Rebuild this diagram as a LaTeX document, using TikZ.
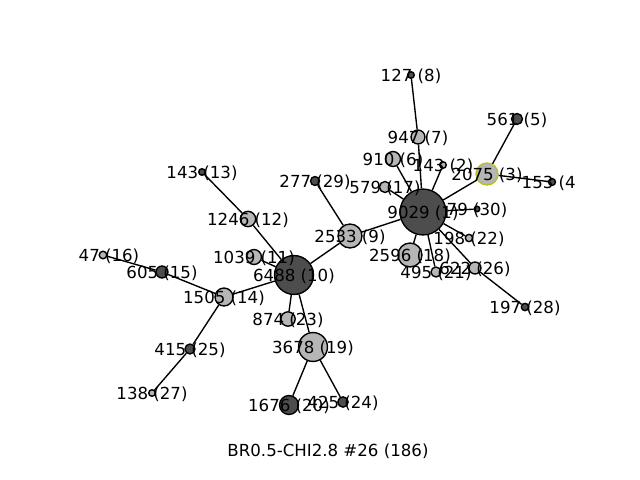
\documentclass[tikz,border=0pt]{standalone}
\usepackage{fontspec}
\setmainfont{DejaVu Sans}
\definecolor{darknode}{RGB}{77,77,77}
\definecolor{lightnode}{RGB}{182,182,182}
\definecolor{olivering}{RGB}{188,189,34}
\begin{document}
\begin{tikzpicture}[x=0.01in,y=-0.01in,line width=1pt,
  dot/.style={circle, draw=black, inner sep=0pt, minimum size=#1*1.44pt},
  dk/.style={dot=#1, fill=darknode},
  lt/.style={dot=#1, fill=lightnode},
  lbl/.style={inner sep=0pt, yshift=-0.6pt, font=\fontsize{12}{14}\selectfont}]
\useasboundingbox (0,0) rectangle (640,480);

\node[dk=23] (v1) at (423,212) {};
\node[lt=3.3] (v2) at (443,165) {};
\node[lt=11, draw=olivering] (v3) at (487,174) {};
\node[dk=3.5] (v4) at (552,182) {};
\node[dk=5.5] (v5) at (517,119) {};
\node[lt=7.5] (v6) at (393,159) {};
\node[lt=7] (v7) at (418,137) {};
\node[dk=3.3] (v8) at (411,75) {};
\node[lt=12] (v9) at (350,236) {};
\node[dk=19.5] (v10) at (294,275) {};
\node[lt=7.5] (v11) at (254,257) {};
\node[lt=7.7] (v12) at (248,219) {};
\node[dk=3.3] (v13) at (202,172) {};
\node[lt=9] (v14) at (224,297) {};
\node[dk=6] (v15) at (162,272) {};
\node[lt=3.8] (v16) at (103,255) {};
\node[lt=5.5] (v17) at (385,187) {};
\node[lt=12] (v18) at (410,255) {};
\node[lt=14.5] (v19) at (313,347) {};
\node[dk=9.5] (v20) at (289,405) {};
\node[lt=5] (v21) at (436,272) {};
\node[lt=3.7] (v22) at (469,238) {};
\node[lt=7.2] (v23) at (288,319) {};
\node[dk=5.2] (v24) at (343,402) {};
\node[dk=5] (v25) at (190,349) {};
\node[lt=6] (v26) at (475,268) {};
\node[lt=3.3] (v27) at (152,393) {};
\node[dk=3.7] (v28) at (525,307) {};
\node[dk=4.5] (v29) at (315,181) {};
\node[dk=2.8] (v30) at (477,209) {};

\draw (v1) -- (v2);
\draw (v1) -- (v3);
\draw (v1) -- (v6);
\draw (v1) -- (v7);
\draw (v1) -- (v17);
\draw (v1) -- (v9);
\draw (v1) -- (v18);
\draw (v1) -- (v21);
\draw (v1) -- (v22);
\draw (v1) -- (v26);
\draw (v1) -- (v30);
\draw (v3) -- (v4);
\draw (v3) -- (v5);
\draw (v7) -- (v8);
\draw (v26) -- (v28);
\draw (v9) -- (v29);
\draw (v9) -- (v10);
\draw (v10) -- (v11);
\draw (v10) -- (v12);
\draw (v12) -- (v13);
\draw (v10) -- (v14);
\draw (v14) -- (v15);
\draw (v15) -- (v16);
\draw (v14) -- (v25);
\draw (v25) -- (v27);
\draw (v10) -- (v23);
\draw (v10) -- (v19);
\draw (v19) -- (v20);
\draw (v19) -- (v24);

% labels sit on the nodes, cut at the plot frame on the right
\begin{scope}
\clip (0,58) rectangle (576,427);
\node[lbl] (t1) at (v1) {9029 (1)};
\node[lbl] (t2) at (v2) {143 (2)};
\node[lbl] (t3) at (v3) {2075 (3)};
\node[lbl] (t4) at (v4) {153 (4)};
\node[lbl] (t5) at (v5) {561 (5)};
\node[lbl] (t6) at (v6) {910 (6)};
\node[lbl] (t7) at (v7) {947 (7)};
\node[lbl] (t8) at (v8) {127 (8)};
\node[lbl] (t9) at (v9) {2533 (9)};
\node[lbl] (t10) at (v10) {6488 (10)};
\node[lbl] (t11) at (v11) {1039 (11)};
\node[lbl] (t12) at (v12) {1246 (12)};
\node[lbl] (t13) at (v13) {143 (13)};
\node[lbl] (t14) at (v14) {1505 (14)};
\node[lbl] (t15) at (v15) {605 (15)};
\node[lbl, xshift=4.3pt] (t16) at (v16) {47 (16)};
\node[lbl] (t17) at (v17) {579 (17)};
\node[lbl] (t18) at (v18) {2596 (18)};
\node[lbl] (t19) at (v19) {3678 (19)};
\node[lbl] (t20) at (v20) {1676 (20)};
\node[lbl] (t21) at (v21) {495 (21)};
\node[lbl] (t22) at (v22) {198 (22)};
\node[lbl] (t23) at (v23) {874 (23)};
\node[lbl] (t24) at (v24) {425 (24)};
\node[lbl] (t25) at (v25) {415 (25)};
\node[lbl] (t26) at (v26) {622 (26)};
\node[lbl] (t27) at (v27) {138 (27)};
\node[lbl] (t28) at (v28) {197 (28)};
\node[lbl] (t29) at (v29) {277 (29)};
\node[lbl] (t30) at (v30) {79 (30)};
\end{scope}

\node[lbl] (title) at (328,450) {BR0.5-CHI2.8 \#26 (186)};
\end{tikzpicture}
\end{document}
